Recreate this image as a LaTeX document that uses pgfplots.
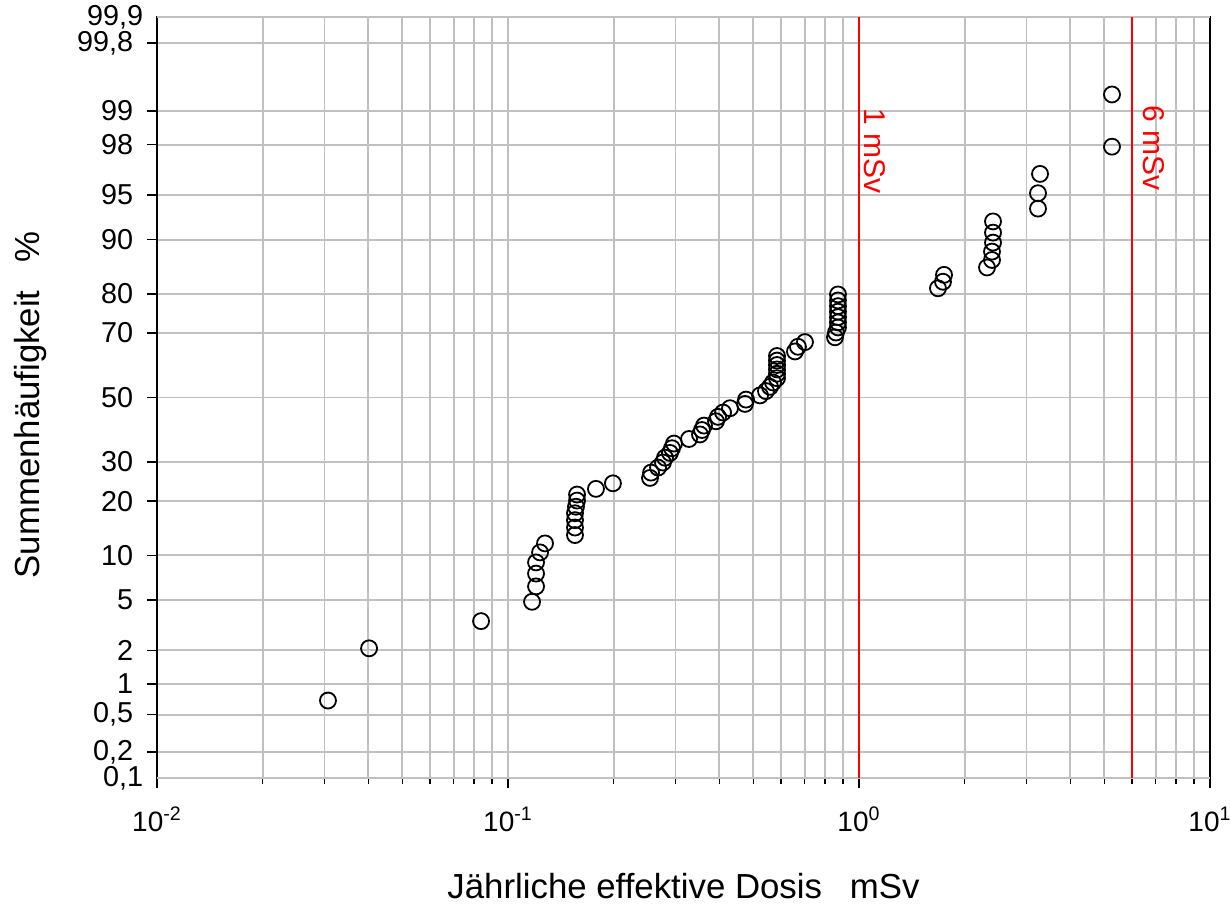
\documentclass[border=0pt]{standalone}
\usepackage{pgfplots}
\pgfplotsset{compat=1.18}
\usepackage{pgfplotstable}
\usepackage{fontspec}
\setmainfont{Liberation Sans}

% dose (mSv), cumulative frequency (%), probit value z of that frequency
\pgfplotstableread{
dose pct z
0.0307 0.694 -2.461
0.0402 2.083 -2.037
0.0838 3.472 -1.816
0.1171 4.861 -1.659
0.1202 6.250 -1.534
0.1202 7.639 -1.430
0.1202 9.028 -1.339
0.1234 10.417 -1.258
0.1275 11.806 -1.185
0.1552 13.194 -1.117
0.1552 14.583 -1.056
0.1552 15.972 -0.996
0.1552 17.361 -0.940
0.1562 18.750 -0.887
0.1573 20.139 -0.837
0.1573 21.528 -0.788
0.1781 22.917 -0.742
0.1991 24.306 -0.697
0.2539 25.694 -0.653
0.2556 27.083 -0.610
0.2676 28.472 -0.569
0.2764 29.861 -0.528
0.2801 31.250 -0.489
0.2894 32.639 -0.450
0.2933 34.028 -0.412
0.2971 35.417 -0.374
0.3279 36.806 -0.337
0.3524 38.194 -0.300
0.3570 39.583 -0.264
0.3618 40.972 -0.228
0.3914 42.361 -0.193
0.3966 43.750 -0.157
0.4099 45.139 -0.122
0.4291 46.528 -0.087
0.4734 47.917 -0.052
0.4766 49.306 -0.017
0.5224 50.694 0.017
0.5433 52.083 0.052
0.5578 53.472 0.087
0.5689 54.861 0.122
0.5840 56.250 0.157
0.5840 57.639 0.193
0.5840 59.028 0.228
0.5840 60.417 0.264
0.5840 61.806 0.300
0.5840 63.194 0.337
0.6571 64.583 0.374
0.6701 65.972 0.412
0.7015 67.361 0.450
0.8543 68.750 0.489
0.8599 70.139 0.528
0.8712 71.528 0.569
0.8712 72.917 0.610
0.8712 74.306 0.653
0.8712 75.694 0.697
0.8712 77.083 0.742
0.8712 78.472 0.788
0.8712 79.861 0.837
1.679 81.250 0.887
1.735 82.639 0.940
1.747 84.028 0.996
2.316 85.417 1.056
2.393 86.806 1.117
2.393 88.194 1.185
2.409 89.583 1.258
2.409 90.972 1.339
2.409 92.361 1.430
3.236 93.750 1.534
3.236 95.139 1.659
3.279 96.528 1.816
5.258 97.917 2.037
5.258 99.306 2.461
}\data

\definecolor{gridgray}{RGB}{192,192,192}
\newcommand{\ytfont}{\fontsize{14.4}{16}\selectfont}

\begin{document}
\begin{tikzpicture}
\begin{axis}[
  name=ax,
  xmode=log, log basis x=10,
  scale only axis, width=526.5pt, height=380.5pt,
  xmin=0.01, xmax=10, ymin=-3.0902, ymax=3.0902,
  axis line style={line width=1pt, black},
  xtick={0.01,0.1,1,10},
  xticklabels={10\textsuperscript{-2},10\textsuperscript{-1},10\textsuperscript{0},10\textsuperscript{1}},
  minor xtick={0.02,0.03,0.04,0.05,0.06,0.07,0.08,0.09,0.2,0.3,0.4,0.5,0.6,0.7,0.8,0.9,2,3,4,5,6,7,8,9},
  ytick={-2.8782,-2.5758,-2.3263,-2.0537,-1.6449,-1.2816,-0.8416,-0.5244,0,0.5244,0.8416,1.2816,1.6449,2.0537,2.3263,2.8782},
  yticklabels={{0,2},{0,5},1,2,5,10,20,30,50,70,80,90,95,98,99,{99,8}},
  extra y ticks={-3.0902,3.0902},
  extra y tick labels={{0,1},{99,9}},
  extra y tick style={major tick length=0pt},
  tick align=outside,
  xtick pos=left, ytick pos=left,
  major tick length=5pt, minor tick length=3pt,
  tick style={black, line width=0.8pt},
  xmajorgrids, xminorgrids, ymajorgrids,
  grid style={line width=0.9pt, gridgray},
  minor grid style={line width=0.9pt, gridgray},
  major grid style={line width=0.9pt, gridgray},
  xticklabel style={font=\fontsize{14}{16}\selectfont, yshift=-6pt},
  yticklabel style={font=\ytfont, xshift=-3.4pt},
  clip=false,
]
\addplot[red, line width=1pt, forget plot] coordinates {(1,-3.0902) (1,3.0902)};
\addplot[red, line width=1pt, forget plot] coordinates {(6,-3.0902) (6,3.0902)};
\addplot[only marks, mark=o, mark size=4pt, mark options={line width=0.9pt, black}] table[x=dose, y=z] {\data};
\node[rotate=-90, anchor=west, inner sep=0pt, text=red, font=\fontsize{15}{17}\selectfont] at ([xshift=8pt]axis cs:1,2.35) {1 mSv};
\node[rotate=-90, anchor=west, inner sep=0pt, text=red, font=\fontsize{15}{17}\selectfont] at ([xshift=11pt]axis cs:6,2.374) {6 mSv};
\end{axis}
\node[rotate=90, anchor=base, font=\fontsize{17.4}{20}\selectfont] at ([xshift=-58.5pt, yshift=-3.75pt]ax.west) {Summenhäufigkeit\hspace{0.8em}\%};
\node[anchor=base, font=\fontsize{17.4}{20}\selectfont] at ([yshift=-60pt]ax.south) {Jährliche effektive Dosis\hspace{0.8em}mSv};
\pgfresetboundingbox
\path ([shift={(-78.5pt,-62.5pt)}]ax.south west) rectangle ([shift={(10pt,8.5pt)}]ax.north east);
\end{tikzpicture}
\end{document}
